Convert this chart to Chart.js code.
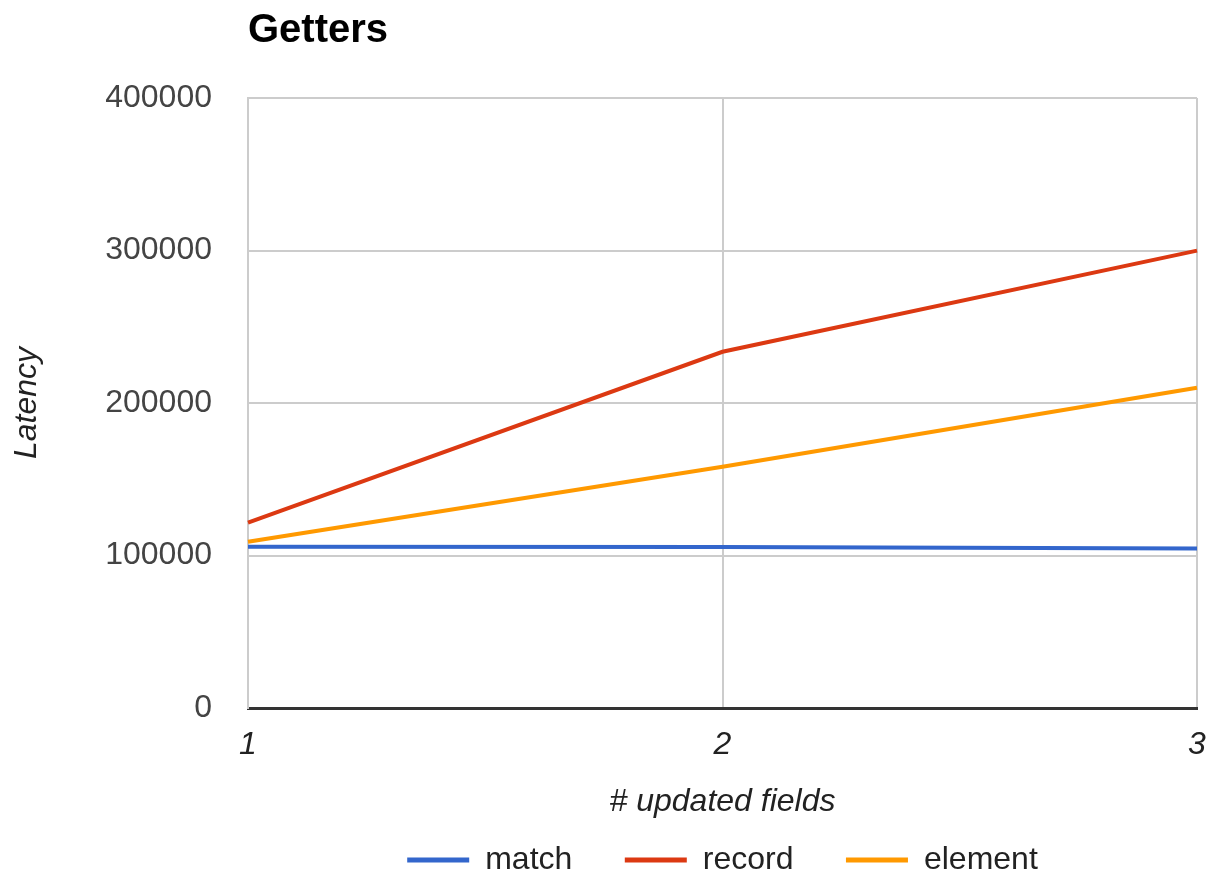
<!DOCTYPE html>
<html>
<head>
<meta charset="utf-8">
<script src="https://cdn.jsdelivr.net/npm/chart.js@4/dist/chart.umd.min.js"></script>
<style>
  html, body { margin: 0; padding: 0; background: #fff; }
  #wrap { width: 1208px; height: 873px; }
</style>
</head>
<body>
<div id="wrap"><canvas id="getters-chart"></canvas></div>
<script>
const fields = ['1', '2', '3'];
const matchLatency = [105800, 105500, 104600];
const recordLatency = [121500, 233600, 299900];
const elementLatency = [109000, 158200, 210000];
const latencyTicks = [0, 100000, 200000, 300000, 400000];

const fontFamily = '"Liberation Sans", Arial, sans-serif';

function line(label, data, color) {
    return {
        label: label,
        data: data,
        borderColor: color,
        backgroundColor: color,
        borderWidth: 4,
        pointRadius: 0,
        tension: 0
    }
}

const canvas = document.querySelector('#getters-chart');

new Chart(canvas.getContext('2d'), {
    type: 'line',
    data: {
        labels: fields,
        datasets: [
            line('match', matchLatency, '#3366cc'),
            line('record', recordLatency, '#dc3912'),
            line('element', elementLatency, '#ff9900')
        ]
    },
    options: {
        responsive: true,
        maintainAspectRatio: false,
        animation: false,
        layout: { padding: { left: 0, right: 11, top: 0, bottom: -13 } },
        plugins: {
            title: {
                display: true,
                text: 'Getters',
                align: 'start',
                fullSize: false,
                color: '#000',
                font: { family: fontFamily, size: 40, weight: 'bold' },
                padding: { top: 7, bottom: 43 }
            },
            legend: {
                position: 'bottom',
                fullSize: false,
                labels: {
                    boxWidth: 62,
                    boxHeight: 5,
                    padding: 8,
                    color: '#222',
                    font: { family: fontFamily, size: 32 },
                    generateLabels(chart) {
                        const items = Chart.defaults.plugins.legend.labels.generateLabels(chart);
                        items.forEach((it, i) => {
                            it.lineWidth = 0;
                            if (i < items.length - 1) it.text = it.text + '     ';
                        });
                        return items;
                    }
                }
            },
            tooltip: { enabled: false }
        },
        scales: {
            x: {
                offset: false,
                grid: { color: '#cccccc', lineWidth: 2, drawTicks: false },
                border: { color: '#333333', width: 3 },
                ticks: {
                    padding: 18,
                    color: '#222',
                    font: { family: fontFamily, size: 32, style: 'italic' }
                },
                title: {
                    display: true,
                    text: '# updated fields',
                    color: '#222',
                    font: { family: fontFamily, size: 32, style: 'italic' },
                    padding: { top: 0, bottom: 15 }
                },
                afterFit(scale) {
                    scale.height = 128;
                    scale.paddingLeft = 0;
                    scale.paddingRight = 0;
                }
            },
            y: {
                min: 0,
                max: 400000,
                afterBuildTicks(scale) {
                    scale.ticks = latencyTicks.map(v => ({ value: v }));
                },
                grid: { color: '#cccccc', lineWidth: 2, drawTicks: false },
                border: { color: '#cccccc', width: 2 },
                ticks: {
                    padding: 36,
                    color: '#444',
                    font: { family: fontFamily, size: 32 },
                    callback: v => String(v)
                },
                title: {
                    display: true,
                    text: 'Latency',
                    color: '#222',
                    font: { family: fontFamily, size: 32, style: 'italic' },
                    padding: { top: 8, bottom: 0 }
                },
                afterFit(scale) {
                    scale.width = 248;
                    scale.paddingTop = 0;
                    scale.paddingBottom = 0;
                }
            }
        }
    }
});
</script>
</body>
</html>
